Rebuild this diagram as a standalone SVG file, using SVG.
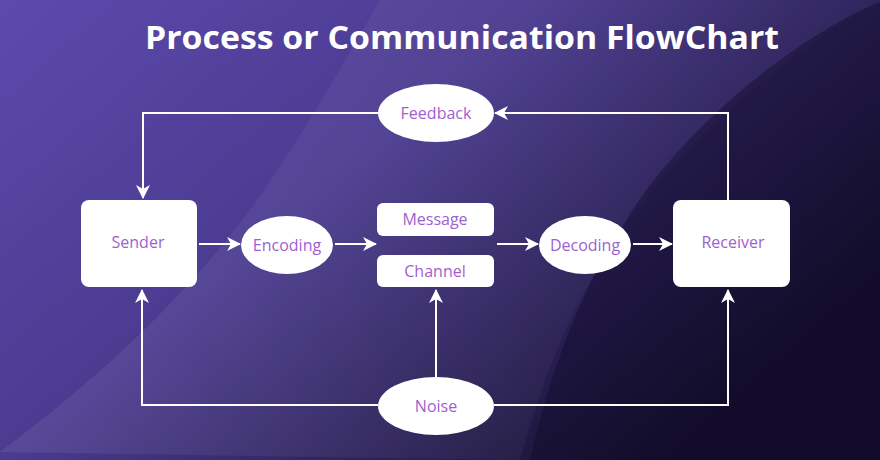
<svg xmlns="http://www.w3.org/2000/svg" width="880" height="460" viewBox="0 0 880 460">
  <defs>
    <linearGradient id="bg" x1="0" y1="0" x2="1" y2="0.6">
      <stop offset="0" stop-color="#5c4aac"/>
      <stop offset="0.45" stop-color="#4b3b90"/>
      <stop offset="0.75" stop-color="#2c2259"/>
      <stop offset="1" stop-color="#130e2a"/>
    </linearGradient>
    <linearGradient id="band" x1="0" y1="0" x2="1" y2="0">
      <stop offset="0" stop-color="#ffffff" stop-opacity="0.07"/>
      <stop offset="1" stop-color="#ffffff" stop-opacity="0.01"/>
    </linearGradient>
    <marker id="arr" viewBox="0 0 14 14" markerWidth="14" markerHeight="14" refX="13" refY="7" orient="auto" markerUnits="userSpaceOnUse">
      <path d="M0,0 L14,7 L0,14 L4,7 z" fill="#ffffff"/>
    </marker>
    <style>
      .title { font-family: "Open Sans", "Liberation Sans", sans-serif; font-weight: 700; font-size: 32px; fill: #ffffff; }
      .lbl { font-family: "Open Sans", "Liberation Sans", sans-serif; font-size: 16px; fill: #a05fcf; text-anchor: middle; dominant-baseline: central; }
      .shape { fill: #ffffff; }
      .conn { fill: none; stroke: #ffffff; stroke-width: 2; marker-end: url(#arr); }
    </style>
  </defs>

  <!-- background -->
  <rect x="0" y="0" width="880" height="460" fill="url(#bg)"/>
  <path d="M0,452 C110,370 190,290 250,210 C300,140 340,70 380,0 L880,0 C760,70 680,150 630,220 C590,280 560,320 520,460 Z" fill="url(#band)"/>
  <path d="M880,2 C790,40 700,120 650,185 C600,255 560,330 530,460 L880,460 Z" fill="#120c2a" opacity="0.45"/>

  <text class="title" x="462" y="49" text-anchor="middle" textLength="634" lengthAdjust="spacingAndGlyphs">Process or Communication FlowChart</text>

  <g id="connectors">
    <path class="conn" d="M728,200 V113 H495"/>
    <path class="conn" d="M378,113 H143 V198"/>
    <path class="conn" d="M199,244 H240"/>
    <path class="conn" d="M335,244 H376"/>
    <path class="conn" d="M497,244 H538"/>
    <path class="conn" d="M633,244 H672"/>
    <path class="conn" d="M378,405 H142 V290"/>
    <path class="conn" d="M436,377 V290"/>
    <path class="conn" d="M494,405 H728 V290"/>
  </g>

  <g id="feedback">
    <ellipse class="shape" cx="436" cy="113" rx="58" ry="29"/>
    <text class="lbl" x="436" y="113">Feedback</text>
  </g>
  <g id="sender">
    <rect class="shape" x="81" y="200" width="116" height="87" rx="8"/>
    <text class="lbl" x="138" y="242">Sender</text>
  </g>
  <g id="encoding">
    <ellipse class="shape" cx="287" cy="245" rx="46" ry="29"/>
    <text class="lbl" x="287" y="245">Encoding</text>
  </g>
  <g id="message">
    <rect class="shape" x="377" y="203" width="117" height="33" rx="6"/>
    <text class="lbl" x="435" y="219">Message</text>
  </g>
  <g id="channel">
    <rect class="shape" x="377" y="255" width="117" height="32" rx="6"/>
    <text class="lbl" x="435" y="271">Channel</text>
  </g>
  <g id="decoding">
    <ellipse class="shape" cx="585" cy="245" rx="46" ry="29"/>
    <text class="lbl" x="585" y="245">Decoding</text>
  </g>
  <g id="receiver">
    <rect class="shape" x="673" y="200" width="117" height="87" rx="8"/>
    <text class="lbl" x="733" y="242">Receiver</text>
  </g>
  <g id="noise">
    <ellipse class="shape" cx="436" cy="406" rx="58" ry="29"/>
    <text class="lbl" x="436" y="406">Noise</text>
  </g>
</svg>
